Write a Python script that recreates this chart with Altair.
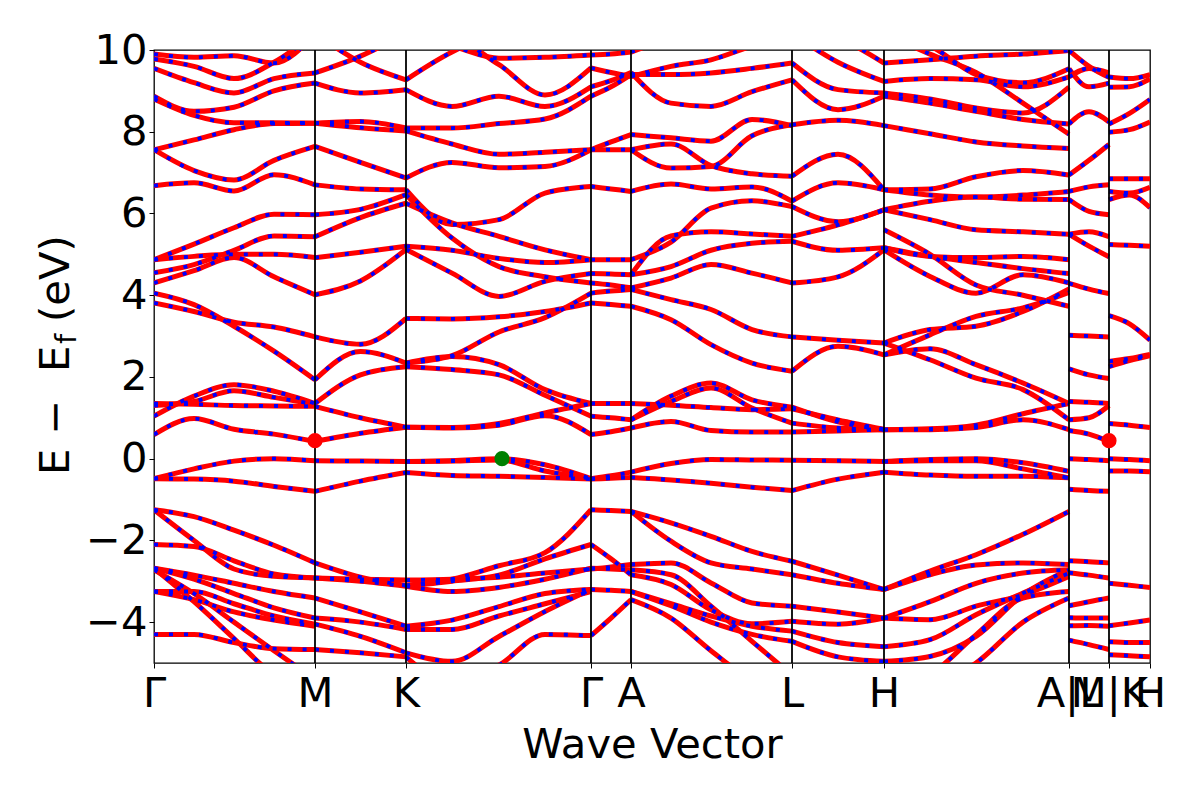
import altair as alt
import pandas as pd

# ---- k-path (arbitrary distance units) ----
TICK_K = [0.00, 1.61, 2.52, 4.37, 4.77, 6.38, 7.30, 9.15, 9.55, 9.96]
TICK_LABELS = ["Γ", "M", "K", "Γ", "A", "L", "H", "A|L", "M|K", "H"]

K_GM = [0.00, 0.40, 0.80, 1.20, 1.61]
K_MK = [1.61, 2.065, 2.52]
K_KG = [2.52, 2.98, 3.45, 3.91, 4.37]
K_GA = [4.37, 4.57, 4.77]
K_AL = [4.77, 5.17, 5.57, 5.98, 6.38]
K_LH = [6.38, 6.84, 7.30]
K_HA = [7.30, 7.76, 8.22, 8.69, 9.15]
K_LM = [9.15, 9.35, 9.55]
K_KH = [9.55, 9.755, 9.96]

# ---- band energies (eV), one list per curve ----
GM = [
    [9.90, 9.82, 9.86, 9.68, 10.40],
    [9.78, 9.60, 9.30, 9.70, 10.40],
    [9.55, 9.20, 8.95, 9.30, 9.44],
    [8.87, 8.50, 8.60, 9.00, 9.19],
    [8.80, 8.40, 8.22, 8.22, 8.21],
    [7.56, 7.80, 8.05, 8.20, 8.21],
    [7.56, 7.05, 6.82, 7.30, 7.64],
    [6.68, 6.75, 6.55, 6.95, 6.70],
    [4.87, 5.25, 5.65, 5.98, 5.97],
    [4.55, 4.75, 5.10, 5.45, 5.43],
    [4.87, 4.95, 5.00, 5.00, 4.92],
    [4.30, 4.60, 4.92, 4.45, 4.01],
    [4.05, 3.77, 3.24, 2.63, 1.93],
    [3.81, 3.60, 3.34, 3.22, 2.98],
    [1.35, 1.33, 1.30, 1.29, 1.28],
    [1.04, 1.53, 1.81, 1.65, 1.35],
    [1.30, 1.40, 1.66, 1.50, 1.33],
    [0.59, 0.98, 0.72, 0.60, 0.42],
    [-0.49, -0.25, -0.06, 0.00, -0.05],
    [-0.49, -0.50, -0.55, -0.68, -0.80],
    [-1.25, -1.42, -1.75, -2.12, -2.55],
    [-1.25, -2.00, -2.70, -2.88, -2.92],
    [-2.10, -2.15, -2.50, -2.82, -2.92],
    [-2.68, -2.85, -3.05, -3.25, -3.41],
    [-2.68, -2.95, -3.30, -3.65, -3.90],
    [-2.68, -3.50, -4.40, -5.30, -5.80],
    [-2.72, -3.30, -4.00, -4.70, -5.40],
    [-3.25, -3.25, -3.55, -3.85, -4.05],
    [-3.25, -3.45, -3.75, -3.95, -4.10],
    [-4.30, -4.30, -4.50, -4.65, -4.67],
]
MK = [
    [9.44, 9.85, 10.40],
    [9.19, 8.95, 9.03],
    [10.40, 9.70, 9.27],
    [8.21, 8.25, 8.09],
    [8.21, 8.10, 8.02],
    [7.64, 7.25, 6.87],
    [6.70, 6.60, 6.58],
    [5.97, 6.10, 6.46],
    [5.43, 5.90, 6.25],
    [4.92, 5.05, 5.20],
    [4.01, 4.35, 5.12],
    [2.98, 2.80, 3.43],
    [1.93, 2.62, 2.34],
    [1.35, 2.05, 2.25],
    [1.28, 1.00, 0.77],
    [0.42, 0.62, 0.77],
    [-0.05, -0.06, -0.07],
    [-0.80, -0.55, -0.34],
    [-2.55, -2.90, -3.10],
    [-2.92, -3.00, -3.12],
    [-2.92, -2.95, -2.97],
    [-3.41, -3.75, -4.10],
    [-3.90, -4.00, -4.18],
    [-4.05, -4.35, -4.75],
    [-4.67, -4.75, -4.85],
]
KG = [
    [10.40, 10.10, 9.80, 9.82, 9.88],
    [9.27, 9.95, 10.40, 10.40, 10.40],
    [9.03, 8.62, 8.87, 8.62, 9.10],
    [10.40, 10.30, 9.64, 8.90, 9.56],
    [8.09, 8.09, 8.20, 8.31, 8.87],
    [8.02, 7.70, 7.45, 7.50, 7.56],
    [6.87, 7.25, 7.12, 7.15, 7.56],
    [6.58, 5.73, 5.85, 6.50, 6.66],
    [6.25, 5.77, 5.44, 5.11, 4.87],
    [6.46, 5.40, 4.70, 4.45, 4.30],
    [5.20, 5.10, 4.90, 4.80, 4.87],
    [5.12, 4.54, 3.97, 4.34, 4.53],
    [3.43, 3.42, 3.47, 3.60, 3.81],
    [2.34, 2.52, 3.10, 3.45, 4.05],
    [2.34, 2.50, 2.30, 1.69, 1.35],
    [2.25, 2.18, 2.05, 1.55, 1.04],
    [0.77, 0.76, 0.86, 1.12, 1.35],
    [0.77, 0.75, 0.82, 1.05, 0.59],
    [-0.07, -0.05, 0.00, -0.15, -0.49],
    [-0.07, -0.06, -0.03, -0.30, -0.49],
    [-0.34, -0.41, -0.43, -0.46, -0.50],
    [-3.10, -2.95, -2.62, -2.30, -1.25],
    [-3.12, -3.00, -2.85, -2.45, -2.10],
    [-2.97, -2.95, -2.90, -2.80, -2.70],
    [-3.12, -3.25, -3.15, -2.95, -2.68],
    [-4.10, -3.95, -3.62, -3.30, -3.20],
    [-4.18, -4.18, -3.85, -3.55, -3.25],
    [-4.75, -4.96, -4.35, -3.74, -3.20],
    [-4.85, -5.50, -5.05, -4.30, -4.33],
]
GA = [
    [9.88, 9.90, 9.95],
    [9.56, 9.45, 9.35],
    [8.87, 9.10, 9.40],
    [9.10, 9.25, 9.45],
    [7.56, 7.56, 7.56],
    [7.56, 7.75, 7.93],
    [6.66, 6.60, 6.54],
    [4.87, 4.87, 4.87],
    [4.53, 4.52, 4.50],
    [4.30, 4.25, 4.18],
    [4.05, 4.10, 4.14],
    [3.81, 3.77, 3.73],
    [1.35, 1.35, 1.35],
    [1.04, 1.00, 0.95],
    [0.59, 0.66, 0.75],
    [-0.49, -0.42, -0.33],
    [-0.50, -0.48, -0.46],
    [-1.25, -1.27, -1.29],
    [-2.10, -2.45, -2.84],
    [-2.70, -2.65, -2.59],
    [-2.68, -2.70, -2.72],
    [-3.20, -3.22, -3.25],
    [-4.33, -3.90, -3.45],
]
AL = [
    [9.95, 10.30, 10.60, 10.60, 10.60],
    [9.35, 9.60, 9.76, 10.10, 10.40],
    [9.45, 8.70, 8.62, 8.98, 9.27],
    [9.40, 9.40, 9.44, 9.55, 9.68],
    [7.93, 7.85, 7.77, 8.30, 8.15],
    [7.56, 7.70, 7.17, 6.97, 6.91],
    [7.56, 7.11, 7.15, 7.90, 8.17],
    [6.54, 6.72, 6.60, 6.65, 6.30],
    [4.87, 5.30, 6.13, 6.31, 6.17],
    [4.50, 5.45, 5.55, 5.50, 5.44],
    [4.50, 4.70, 5.10, 5.27, 5.32],
    [4.18, 4.42, 4.75, 4.54, 4.30],
    [4.14, 3.89, 3.65, 3.16, 2.98],
    [3.73, 3.40, 2.79, 2.34, 2.14],
    [1.35, 1.31, 1.25, 1.20, 1.22],
    [0.95, 1.53, 1.85, 1.44, 1.26],
    [0.95, 1.40, 1.73, 1.24, 0.87],
    [0.75, 0.91, 0.69, 0.65, 0.65],
    [-0.33, -0.12, -0.02, -0.03, -0.04],
    [-0.46, -0.52, -0.60, -0.70, -0.78],
    [-1.29, -2.02, -2.55, -2.70, -2.84],
    [-1.29, -1.57, -1.90, -2.27, -2.51],
    [-2.59, -2.55, -3.04, -3.53, -3.61],
    [-2.72, -2.84, -3.61, -4.47, -5.30],
    [-2.84, -3.08, -3.70, -4.04, -3.98],
    [-3.25, -3.55, -3.85, -4.10, -4.22],
    [-3.45, -3.90, -4.70, -5.40, -5.60],
    [-3.25, -3.60, -4.00, -4.30, -4.47],
]
LH = [
    [9.68, 9.03, 8.95],
    [9.27, 8.54, 8.87],
    [10.40, 9.70, 9.23],
    [10.60, 10.30, 9.68],
    [8.17, 8.28, 8.15],
    [6.91, 7.45, 6.58],
    [6.30, 6.75, 6.58],
    [6.17, 5.80, 6.09],
    [5.44, 5.72, 6.09],
    [5.32, 5.10, 5.16],
    [4.30, 4.45, 5.11],
    [2.98, 2.90, 2.83],
    [2.14, 2.75, 2.54],
    [1.26, 0.90, 0.71],
    [1.22, 0.95, 0.72],
    [0.87, 0.75, 0.71],
    [0.65, 0.68, 0.71],
    [-0.04, -0.05, -0.07],
    [-0.78, -0.50, -0.33],
    [-2.51, -2.85, -3.20],
    [-2.84, -3.05, -3.20],
    [-3.61, -3.75, -3.90],
    [-3.98, -4.05, -3.90],
    [-4.22, -4.50, -4.60],
    [-4.47, -4.85, -4.96],
]
HA = [
    [9.68, 9.76, 9.85, 9.90, 9.99],
    [10.40, 10.10, 9.40, 9.20, 9.54],
    [9.23, 9.30, 9.27, 9.10, 9.34],
    [8.95, 8.80, 8.58, 8.46, 9.09],
    [8.87, 8.70, 8.50, 8.30, 8.19],
    [8.15, 7.95, 7.75, 7.65, 7.59],
    [10.40, 9.90, 9.45, 8.70, 7.94],
    [6.58, 6.60, 6.90, 7.05, 6.94],
    [6.58, 6.45, 6.40, 6.45, 6.54],
    [6.09, 6.30, 6.40, 6.35, 6.34],
    [6.09, 5.85, 5.60, 5.55, 5.49],
    [5.16, 4.95, 4.92, 4.95, 4.87],
    [5.16, 4.95, 4.80, 4.65, 4.53],
    [5.11, 4.46, 4.05, 4.50, 4.30],
    [5.60, 5.00, 4.25, 4.00, 3.73],
    [2.54, 3.03, 3.48, 3.69, 4.07],
    [2.83, 3.16, 3.24, 3.60, 4.15],
    [2.83, 2.42, 1.97, 1.69, 0.95],
    [2.54, 2.69, 2.30, 1.85, 1.35],
    [0.71, 0.73, 0.82, 1.10, 1.35],
    [0.71, 0.71, 0.76, 0.95, 0.71],
    [-0.07, -0.02, 0.00, -0.10, -0.31],
    [-0.07, -0.05, -0.05, -0.25, -0.47],
    [-0.33, -0.40, -0.43, -0.43, -0.47],
    [-3.20, -2.84, -2.60, -2.55, -2.59],
    [-3.20, -2.75, -2.35, -1.85, -1.29],
    [-3.90, -3.50, -3.05, -2.80, -2.72],
    [-3.90, -3.94, -3.61, -3.33, -2.88],
    [-4.60, -4.43, -3.82, -3.29, -2.80],
    [-4.96, -4.84, -4.35, -3.33, -2.72],
    [-5.80, -5.30, -4.31, -3.41, -3.25],
    [-6.00, -5.60, -5.00, -4.00, -3.41],
]
LM = [
    [9.99, 9.60, 9.33],
    [9.54, 9.10, 9.19],
    [9.34, 9.55, 9.44],
    [8.19, 8.49, 8.24],
    [6.94, 7.30, 7.69],
    [6.54, 6.65, 6.70],
    [6.34, 6.05, 5.97],
    [5.49, 5.20, 4.94],
    [5.49, 5.55, 5.43],
    [4.29, 4.15, 4.04],
    [3.02, 3.00, 2.98],
    [2.20, 2.05, 1.96],
    [1.40, 1.38, 1.35],
    [0.95, 1.00, 1.30],
    [0.69, 0.60, 0.42],
    [0.00, -0.02, -0.05],
    [-0.75, -0.78, -0.80],
    [-2.50, -2.52, -2.55],
    [-2.79, -2.85, -2.92],
    [-3.60, -3.50, -3.41],
    [-3.89, -3.90, -3.90],
    [-4.09, -4.08, -4.10],
    [-4.44, -4.55, -4.67],
]
KH = [
    [9.34, 9.30, 9.40],
    [9.09, 9.10, 9.29],
    [8.19, 8.45, 8.79],
    [7.99, 8.05, 8.24],
    [6.85, 6.85, 6.85],
    [6.54, 6.50, 6.64],
    [6.34, 6.45, 6.14],
    [5.24, 5.22, 5.20],
    [3.50, 3.30, 2.90],
    [2.38, 2.45, 2.55],
    [2.25, 2.40, 2.52],
    [0.86, 0.82, 0.76],
    [0.00, -0.02, -0.05],
    [-0.30, -0.30, -0.32],
    [-3.05, -3.10, -3.15],
    [-4.09, -4.02, -3.95],
    [-4.48, -4.50, -4.50],
    [-4.80, -4.82, -4.85],
]

# band-edge markers
DOT_K = [1.61, 9.55, 3.48]
DOT_E = [0.44, 0.44, 0.00]
DOT_COLOR = ["#ff0000", "#ff0000", "#008000"]

SEGMENTS = [
    ("GM", K_GM, GM), ("MK", K_MK, MK), ("KG", K_KG, KG), ("GA", K_GA, GA),
    ("AL", K_AL, AL), ("LH", K_LH, LH), ("HA", K_HA, HA), ("LM", K_LM, LM),
    ("KH", K_KH, KH),
]

rows = []
for name, ks, bands in SEGMENTS:
    for i, band in enumerate(bands):
        for k, e in zip(ks, band):
            rows.append({"k": k, "E": e, "line": f"{name}{i}"})
bands_df = pd.DataFrame(rows)

rules_df = pd.DataFrame({"k": TICK_K[1:-1]})
dots_df = pd.DataFrame({"k": DOT_K, "E": DOT_E, "c": DOT_COLOR})

FS = 41.67
FONT = "DejaVu Sans"

label_expr = ""
for kv, lab in zip(TICK_K, TICK_LABELS):
    label_expr += f"abs(datum.value - {kv}) < 0.01 ? '{lab}' : "
label_expr += "''"

x_enc = alt.X(
    "k:Q",
    scale=alt.Scale(domain=[TICK_K[0], TICK_K[-1]], nice=False, zero=False),
    axis=alt.Axis(
        values=TICK_K, labelExpr=label_expr, title="Wave Vector",
        titleFontSize=FS, titleFont=FONT, titleFontWeight="normal", titleColor="black",
        titlePadding=10, labelFontSize=FS, labelFont=FONT, labelColor="black",
        labelAngle=0, labelOverlap=False, labelFlush=False, labelPadding=5,
        tickSize=5, tickColor="black", tickWidth=1, domain=False, grid=False,
    ),
)
y_enc = alt.Y(
    "E:Q",
    scale=alt.Scale(domain=[-5, 10], nice=False, zero=False),
    axis=alt.Axis(
        values=[-4, -2, 0, 2, 4, 6, 8, 10], title=None,
        labelFontSize=FS, labelFont=FONT, labelColor="black", labelPadding=2,
        tickSize=5, tickColor="black", tickWidth=1, domain=False, grid=False,
    ),
)

red = alt.Chart(bands_df).mark_line(
    color="#ff0000", strokeWidth=5, interpolate="monotone", clip=True
).encode(x=x_enc, y=y_enc, detail="line:N", order="k:Q")

blue = alt.Chart(bands_df).mark_line(
    color="#0000ff", strokeWidth=3.8, strokeDash=[4, 11], interpolate="monotone", clip=True
).encode(x=x_enc, y=y_enc, detail="line:N", order="k:Q")

rules = alt.Chart(rules_df).mark_rule(color="black", strokeWidth=1.8).encode(x=x_enc)

dots = alt.Chart(dots_df).mark_circle(size=230, opacity=1).encode(
    x=x_enc, y=y_enc, color=alt.Color("c:N", scale=None)
)

one = pd.DataFrame({"a": [0]})
def ytitle(text, y, x=-85, size=FS, align="left"):
    return alt.Chart(one).mark_text(
        text=text, angle=270, align=align, baseline="alphabetic",
        font=FONT, fontSize=size, color="black"
    ).encode(x=alt.value(x), y=alt.value(y))

title_parts = [
    ytitle("E", 425),
    ytitle("−", 367, align="center"),
    ytitle("E", 322),
    ytitle("f", 294, x=-78, size=29),
    ytitle("(eV)", 272),
]

chart = alt.layer(red, blue, rules, dots, *title_parts).properties(
    width=996, height=613,
    autosize=alt.AutoSizeParams(type="none"),
    padding={"left": 146, "top": 42, "right": 42, "bottom": 130},
).configure_view(stroke="black", strokeWidth=1.3)

chart.save("out.html", embed_options={"renderer": "svg", "actions": False})
